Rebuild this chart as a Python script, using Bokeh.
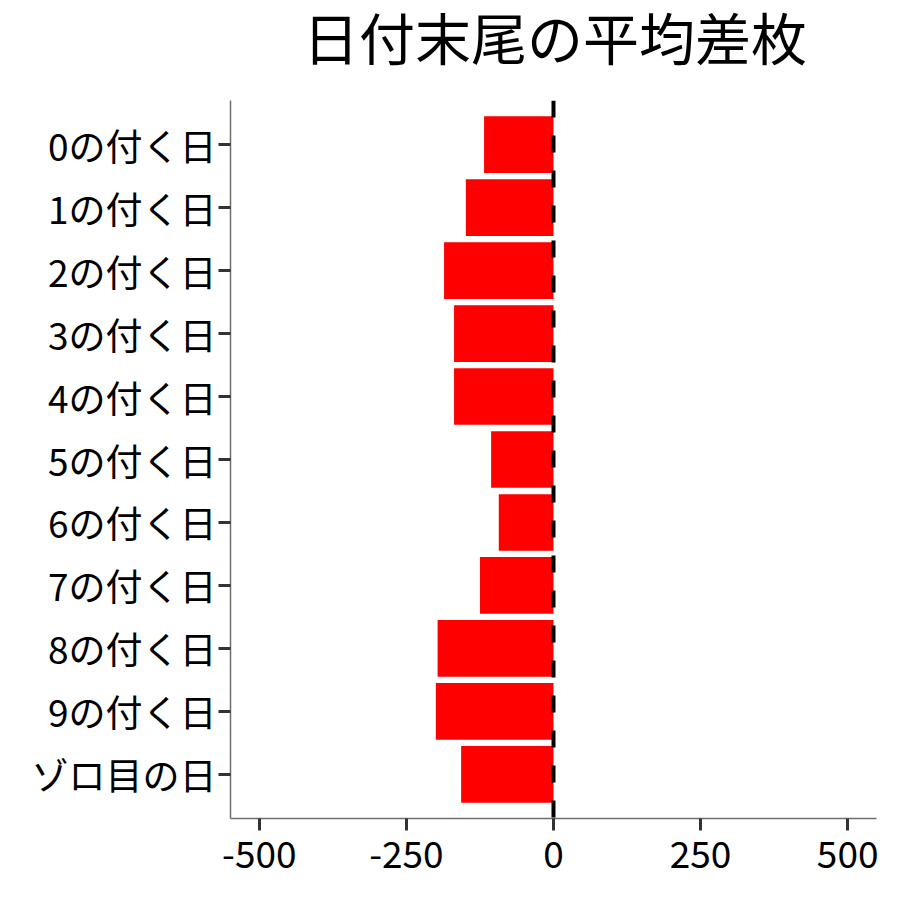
from bokeh.plotting import figure
from bokeh.models import FactorRange, Range1d, FixedTicker, Span, ColumnDataSource, CustomJSTickFormatter, Div
from bokeh.layouts import column
from bokeh.embed import file_html
from bokeh.resources import INLINE

categories = ["0の付く日", "1の付く日", "2の付く日", "3の付く日", "4の付く日",
              "5の付く日", "6の付く日", "7の付く日", "8の付く日", "9の付く日", "ゾロ目の日"]
values = [-118, -149, -186, -169, -169, -106, -93, -125, -197, -200, -157]
x_ticks = [-500, -250, 0, 250, 500]
title_text = "日付末尾の平均差枚"

FONT = "Noto Sans CJK JP"

src = ColumnDataSource(data=dict(cat=categories, val=values))

yr = FactorRange(factors=list(reversed(categories)), range_padding=0.2,
                 range_padding_units="absolute")

p = figure(width=884, height=784, y_range=yr, x_range=Range1d(-549, 549),
           output_backend="svg", toolbar_location=None,
           min_border_left=230, min_border_right=8, min_border_top=0,
           min_border_bottom=66, margin=0)
p.title.visible = False

p.hbar(y="cat", left=0, right="val", height=0.9, source=src,
       fill_color="#FF0000", line_color=None)

p.add_layout(Span(location=0, dimension="height", line_color="black",
                  line_width=4, line_dash="17 18"))

p.xgrid.visible = False
p.ygrid.visible = False
p.outline_line_color = None
p.background_fill_color = "white"
p.border_fill_color = "white"

p.xaxis.ticker = FixedTicker(ticks=x_ticks)
p.xaxis.formatter = CustomJSTickFormatter(code="return String(tick);")
for ax in (p.xaxis[0], p.yaxis[0]):
    ax.axis_line_color = "#6e6e6e"
    ax.axis_line_width = 1.5
    ax.major_tick_line_color = "#333333"
    ax.major_tick_line_width = 3
    ax.major_tick_out = 12
    ax.major_tick_in = 0
    ax.minor_tick_line_color = None
    ax.major_label_text_font = FONT
    ax.major_label_text_font_size = "37px"
    ax.major_label_text_color = "black"
p.xaxis.major_label_standoff = 10
p.yaxis.major_label_standoff = 2

title_div = Div(
    text=('<div style="font-family:\'%s\';font-size:56px;line-height:60px;'
          'color:black;padding-top:6px;white-space:nowrap;">%s</div>')
         % (FONT, title_text),
    width=570, height=100, margin=(0, 11, 0, 303),
    styles={"overflow": "visible"})

layout = column(title_div, p, spacing=0, margin=0)

open("out.html", "w").write(file_html(layout, INLINE))
